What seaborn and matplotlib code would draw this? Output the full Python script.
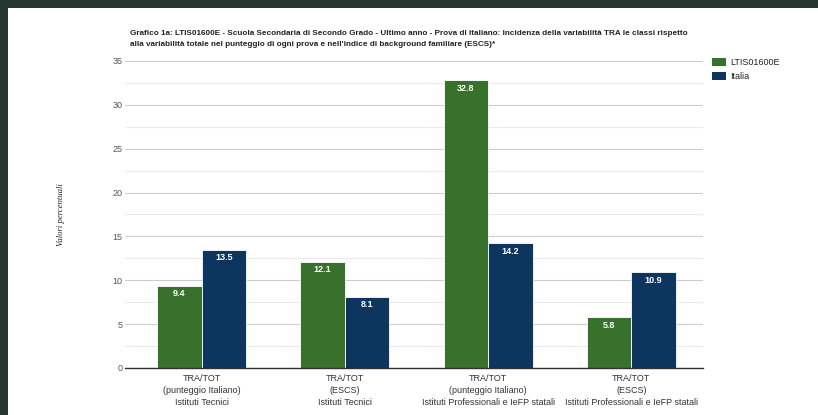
import pandas as pd
import matplotlib.pyplot as plt
import seaborn as sns
from matplotlib.patches import Rectangle, Patch

# Data
categorie = [
    "TRA/TOT\n(punteggio Italiano)\nIstituti Tecnici",
    "TRA/TOT\n(ESCS)\nIstituti Tecnici",
    "TRA/TOT\n(punteggio Italiano)\nIstituti Professionali e IeFP statali",
    "TRA/TOT\n(ESCS)\nIstituti Professionali e IeFP statali",
]
serie = ["LTIS01600E", "Italia"]
valori_scuola = [9.4, 12.1, 32.8, 5.8]
valori_italia = [13.5, 8.1, 14.2, 10.9]
colori = ["#37712b", "#0c365e"]

df = pd.DataFrame({
    "categoria": categorie * 2,
    "serie": [serie[0]] * 4 + [serie[1]] * 4,
    "valore": valori_scuola + valori_italia,
})

sns.set_style("white")
plt.rcParams["font.family"] = ["Liberation Sans", "DejaVu Sans"]

fig = plt.figure(figsize=(8.18, 4.15), dpi=100)
ax = fig.add_axes([0.1528, 0.1133, 0.7066, 0.7398])

sns.barplot(data=df, x="categoria", y="valore", hue="serie", palette=colori,
            saturation=1, width=0.62, edgecolor="white", linewidth=0.6, ax=ax, legend=False)

ax.set_ylim(0, 35)
ax.set_xlim(-0.535, 3.5)
ax.set_yticks(range(0, 36, 5))
ax.set_yticks([y + 2.5 for y in range(0, 35, 5)], minor=True)
ax.grid(axis="y", which="major", color="#cccccc", linewidth=0.8)
ax.grid(axis="y", which="minor", color="#ebebeb", linewidth=0.8)
ax.set_axisbelow(True)
for s in ["top", "right", "left"]:
    ax.spines[s].set_visible(False)
ax.spines["bottom"].set_color("#333333")
ax.spines["bottom"].set_linewidth(1.0)
ax.tick_params(axis="y", which="both", length=0, labelsize=6.5, labelcolor="#555555", pad=2)
ax.tick_params(axis="x", length=0, labelsize=6.5, labelcolor="#333333", pad=4)
for lbl in ax.get_xticklabels():
    lbl.set_linespacing(1.45)
ax.set_xlabel("")
ax.set_ylabel("")

# value labels inside bars
for cont in ax.containers:
    ax.bar_label(cont, fmt="%.1f", label_type="edge", padding=-9,
                 color="white", fontsize=6.5, fontweight="bold")

# y axis title
fig.text(0.074, 0.482, "Valori percentuali", rotation=90, ha="center", va="center",
         fontsize=6.3, style="italic", family=["Liberation Serif", "DejaVu Serif"], color="#222222")

# title
fig.text(0.159, 0.928,
         "Grafico 1a: LTIS01600E - Scuola Secondaria di Secondo Grado - Ultimo anno - Prova di Italiano: "
         "Incidenza della variabilità TRA le classi rispetto\n"
         "alla variabilità totale nel punteggio di ogni prova e nell'indice di background familiare (ESCS)*",
         ha="left", va="top", fontsize=5.85, fontweight="bold", color="#222222", linespacing=1.75)

# legend
handles = [Patch(facecolor=c, edgecolor="none") for c in colori]
fig.legend(handles, serie, loc="upper left", bbox_to_anchor=(0.870, 0.861),
           frameon=False, fontsize=6.5, handlelength=1.6, handleheight=1.0,
           handletextpad=0.5, labelspacing=0.6, labelcolor="#222222",
           borderaxespad=0, borderpad=0)

# dark frame strips at top and left
fig.patches.append(Rectangle((0, 1 - 8 / 415), 1, 8 / 415, transform=fig.transFigure,
                             facecolor="#263631", edgecolor="none", zorder=10))
fig.patches.append(Rectangle((0, 0), 8 / 818, 1, transform=fig.transFigure,
                             facecolor="#263631", edgecolor="none", zorder=10))

plt.savefig("out.png", dpi=100)
